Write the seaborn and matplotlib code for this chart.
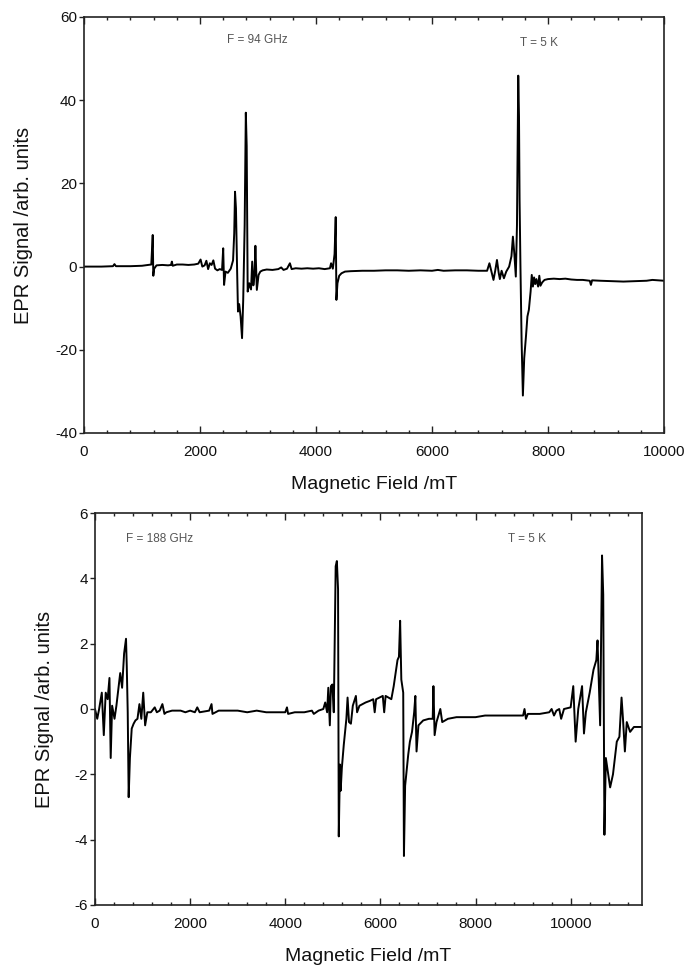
import matplotlib
matplotlib.use("Agg")
import matplotlib.pyplot as plt
import seaborn as sns
import pandas as pd
from matplotlib.ticker import MultipleLocator

# ---------------- data ----------------
top_field = [0, 300, 500, 525, 550, 800, 1000, 1100, 1160, 1185, 1195, 1210, 1250, 1350,
             1450, 1500, 1515, 1530, 1600, 1700, 1800, 1900, 1970, 2010, 2040, 2080, 2110,
             2140, 2170, 2200, 2230, 2260, 2300, 2340, 2380, 2400, 2415, 2440, 2480, 2530,
             2570, 2590, 2604, 2620, 2640, 2655, 2675, 2700, 2725, 2745, 2770, 2790, 2805,
             2822, 2850, 2880, 2900, 2920, 2940, 2955, 2980, 3010, 3040, 3080, 3150, 3250,
             3350, 3400, 3440, 3500, 3550, 3580, 3650, 3750, 3850, 3950, 4050, 4150, 4240,
             4260, 4290, 4320, 4340, 4352, 4370, 4400, 4440, 4500, 4600, 4800, 5000, 5200,
             5400, 5600, 5800, 6000, 6100, 6200, 6400, 6600, 6800, 6950, 6990, 7030, 7060,
             7090, 7120, 7150, 7170, 7200, 7240, 7280, 7330, 7370, 7395, 7420, 7445, 7465,
             7487, 7500, 7510, 7525, 7545, 7567, 7590, 7620, 7645, 7670, 7700, 7720, 7740,
             7760, 7780, 7800, 7830, 7850, 7870, 7900, 7940, 8000, 8100, 8200, 8300, 8400,
             8500, 8600, 8720, 8740, 8760, 8900, 9100, 9300, 9500, 9700, 9800, 9900, 10000]
top_signal = [0.0, 0.0, 0.1, 0.6, 0.1, 0.1, 0.2, 0.4, 0.5, 7.6, -2.2, -0.5, 0.3, 0.4,
              0.3, 0.4, 1.2, 0.2, 0.5, 0.5, 0.4, 0.5, 0.7, 1.7, 0.0, 0.3, 1.4,
              -0.6, 0.8, 0.4, 1.5, -0.5, -0.9, -0.6, -0.8, 4.4, -4.4, -1.2, -1.5, -0.5,
              1.5, 8.0, 18.0, 14.0, -1.0, -10.8, -9.0, -12.0, -17.2, -8.0, 10.0, 37.0, 29.0,
              -6.0, -4.0, -5.5, 1.2, -4.5, -2.0, 5.0, -5.6, -2.0, -1.2, -0.9, -0.7, -0.8,
              -0.6, -0.2, -0.8, -0.5, 0.8, -0.6, -0.4, -0.5, -0.4, -0.5, -0.4, -0.6, -0.4,
              0.8, -0.5, 3.0, 11.9, -8.0, -4.0, -2.2, -1.6, -1.2, -1.1, -1.0, -1.0, -0.9,
              -0.9, -1.0, -0.9, -1.0, -0.8, -1.0, -0.9, -0.9, -1.0, -1.0, 0.8, -1.5, -3.2,
              -1.0, 1.6, -1.5, -3.0, -1.0, -2.8, -1.2, 0.0, 2.5, 7.2, 3.0, -2.4, 10.0,
              45.9, 36.0, 16.0, 0.0, -18.0, -31.0, -22.0, -16.8, -12.0, -10.4, -6.0, -2.0, -4.8,
              -2.6, -4.2, -3.0, -4.8, -2.2, -4.6, -3.8, -3.2, -3.0, -2.9, -3.0, -2.9, -3.1,
              -3.2, -3.2, -3.4, -4.4, -3.3, -3.4, -3.5, -3.6, -3.5, -3.4, -3.2, -3.3, -3.4]

bottom_field = [0, 47, 87, 143, 185, 225, 266, 304, 330, 360, 410, 450, 490, 530, 570,
                612, 652, 668, 688, 708, 734, 772, 812, 850, 893, 934, 974, 1014, 1054,
                1100, 1175, 1256, 1300, 1360, 1417, 1460, 1500, 1620, 1800, 1900, 2000,
                2100, 2150, 2200, 2400, 2450, 2470, 2600, 2800, 3000, 3200, 3400, 3600,
                3800, 4000, 4036, 4060, 4200, 4400, 4560, 4600, 4700, 4800, 4840, 4880,
                4905, 4937, 4960, 4990, 5020, 5060, 5085, 5110, 5125, 5150, 5165, 5190,
                5230, 5285, 5310, 5340, 5380, 5420, 5485, 5510, 5560, 5690, 5780, 5850,
                5880, 5910, 6050, 6080, 6110, 6230, 6280, 6310, 6360, 6390, 6415, 6440,
                6480, 6495, 6520, 6550, 6585, 6620, 6665, 6710, 6735, 6760, 6800, 6900,
                7020, 7100, 7115, 7140, 7180, 7260, 7300, 7420, 7600, 7800, 8000, 8200,
                8400, 8600, 8800, 9000, 9030, 9060, 9100, 9350, 9550, 9600, 9650, 9700,
                9760, 9800, 9860, 10000, 10055, 10105, 10160, 10240, 10280, 10320, 10400,
                10480, 10540, 10565, 10590, 10620, 10660, 10685, 10710, 10740, 10780,
                10830, 10890, 10970, 11025, 11070, 11100, 11140, 11180, 11250, 11330, 11500]
bottom_signal = [0.0, -0.3, 0.0, 0.5, -0.8, 0.5, 0.3, 0.95, -1.5, 0.1, -0.3, 0.1, 0.6, 1.1, 0.65,
                 1.7, 2.15, 1.3, -0.1, -2.7, -1.5, -0.6, -0.45, -0.35, -0.3, 0.15, -0.3, 0.5, -0.5,
                 -0.1, -0.1, 0.05, -0.1, -0.05, 0.15, -0.15, -0.1, -0.05, -0.05, -0.1, -0.05,
                 -0.1, 0.05, -0.1, -0.05, 0.15, -0.15, -0.05, -0.05, -0.05, -0.1, -0.05, -0.1,
                 -0.1, -0.1, 0.05, -0.15, -0.1, -0.1, -0.05, -0.15, -0.05, 0.0, 0.2, -0.1,
                 0.65, -0.5, 0.7, 0.75, -0.1, 4.37, 4.53, 3.66, -3.9, -1.7, -2.5, -1.8,
                 -1.1, -0.3, 0.35, -0.4, -0.45, 0.1, 0.4, -0.1, 0.1, 0.2, 0.25, 0.3,
                 -0.1, 0.3, 0.4, -0.1, 0.4, 0.3, 0.7, 1.0, 1.5, 1.6, 2.7, 0.9,
                 0.5, -4.5, -2.35, -1.9, -1.4, -1.0, -0.7, -0.1, 0.4, -1.3, -0.5, -0.35,
                 -0.3, -0.3, 0.7, -0.8, -0.4, 0.0, -0.4, -0.3, -0.25, -0.25, -0.25, -0.2,
                 -0.2, -0.2, -0.2, -0.2, 0.0, -0.3, -0.15, -0.15, -0.1, 0.0, -0.2, -0.05,
                 0.0, -0.3, 0.0, 0.05, 0.7, -1.0, 0.0, 0.7, -0.75, -0.1, 0.5,
                 1.2, 1.5, 2.1, 0.9, -0.5, 4.7, 3.5, -3.85, -1.5, -1.9,
                 -2.4, -2.0, -1.0, -0.85, 0.35, -0.3, -1.3, -0.4, -0.7, -0.55, -0.55]

top_ticks_x = [0, 2000, 4000, 6000, 8000, 10000]
top_ticks_y = [-40, -20, 0, 20, 40, 60]
bottom_ticks_x = [0, 2000, 4000, 6000, 8000, 10000]
bottom_ticks_y = [-6, -4, -2, 0, 2, 4, 6]

x_label = "Magnetic Field /mT"
y_label = "EPR Signal /arb. units"
top_notes = ["F = 94 GHz", "T = 5 K"]
bottom_notes = ["F = 188 GHz", "T = 5 K"]

# ---------------- style ----------------
sns.set_theme(style="ticks")
plt.rcParams['font.family'] = ['Liberation Sans', 'DejaVu Sans']
plt.rcParams['axes.unicode_minus'] = False

fig = plt.figure(figsize=(6.88, 9.67), dpi=100)
W, H = 688, 967
ax1 = fig.add_axes([84 / W, 1 - 433 / H, 580 / W, 416 / H])
ax2 = fig.add_axes([95 / W, 1 - 905 / H, 547 / W, 392 / H])

df_top = pd.DataFrame({"field": top_field, "signal": top_signal})
df_bot = pd.DataFrame({"field": bottom_field, "signal": bottom_signal})

for ax, df in ((ax1, df_top), (ax2, df_bot)):
    sns.lineplot(data=df, x="field", y="signal", ax=ax, color="black",
                 linewidth=1.4, estimator=None, sort=False)


def style_axis(ax, xlim, ylim, xt, yt, ylab_x, xlab_y):
    ax.set_xlim(*xlim)
    ax.set_ylim(*ylim)
    ax.set_xticks(xt)
    ax.set_yticks(yt)
    ax.xaxis.set_minor_locator(MultipleLocator(400))
    ax.tick_params(axis="x", which="both", direction="in", top=True, bottom=True,
                   color="#222222", width=1.0)
    ax.tick_params(axis="x", which="major", length=5, pad=8.5, labelsize=11,
                   labelcolor="#111111")
    ax.tick_params(axis="x", which="minor", length=2.5)
    ax.tick_params(axis="y", which="major", direction="out", left=True, right=False,
                   length=3.5, width=1.0, pad=1.5, labelsize=11, color="#222222",
                   labelcolor="#111111")
    for sp in ax.spines.values():
        sp.set_visible(True)
        sp.set_linewidth(1.2)
        sp.set_color("#222222")
    ax.set_xlabel(x_label, fontsize=14, color="#111111")
    ax.set_ylabel(y_label, fontsize=14.5, color="#111111")
    ax.xaxis.set_label_coords(0.5, xlab_y)
    ax.yaxis.set_label_coords(ylab_x, 0.5)


style_axis(ax1, (0, 10000), (-40, 60), top_ticks_x, top_ticks_y, -0.088, -0.103)
style_axis(ax2, (0, 11500), (-6, 6), bottom_ticks_x, bottom_ticks_y, -0.075, -0.110)

note_kw = dict(fontsize=8.5, color="#555555", ha="left", va="center")
ax1.text(2470, 54.5, top_notes[0], **note_kw)
ax1.text(7517, 53.7, top_notes[1], **note_kw)
ax2.text(653, 5.2, bottom_notes[0], **note_kw)
ax2.text(8674, 5.2, bottom_notes[1], **note_kw)

fig.savefig("out.png", dpi=100)
